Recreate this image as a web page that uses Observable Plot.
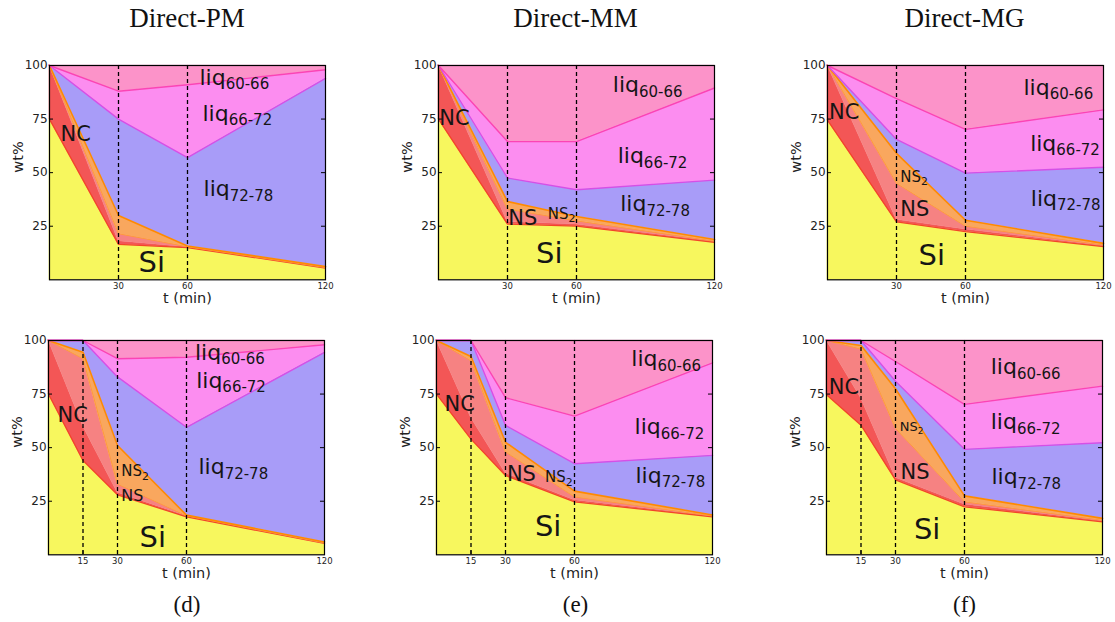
<!DOCTYPE html>
<html><head><meta charset="utf-8">
<script src="https://cdn.jsdelivr.net/npm/d3@7"></script>
<script src="https://cdn.jsdelivr.net/npm/@observablehq/plot@0.6"></script>
<style>
body{margin:0;background:#fff;}
#fig{position:relative;width:1115px;height:622px;overflow:hidden;background:#fff;}
.title{position:absolute;font-family:"Liberation Serif",serif;font-size:27px;text-align:center;width:300px;line-height:30px;color:#111;}
.cap{position:absolute;font-family:"Liberation Serif",serif;font-size:23px;text-align:center;width:100px;line-height:30px;color:#111;}
.panel{position:absolute;}
</style></head><body><div id="fig"></div>
<script>
// ---- data ----
const phases = ["Si","NC","NS","NS2","liq72-78","liq66-72","liq60-66"];
const phaseColors = ["#f7f75e","#f35656","#f68282","#f9a75e","#a89cf8","#fc8df0","#fc93c9"];
const timesTop = [0,30,60,120];
const timesBottom = [0,15,30,60,120];
const xTicksTop = [30,60,120];
const xTicksBottom = [15,30,60,120];
const yTicks = [25,50,75,100];
const titles = ["Direct-PM","Direct-MM","Direct-MG"];
const captions = ["(d)","(e)","(f)"];

// wt% of each phase (rows: Si, NC, NS, NS2, liq72-78, liq66-72, liq60-66), columns = times
const directPM_top = [
  [75,16.5,15,5.5],
  [25,1.5,0.2,0.1],
  [0,3.5,0.2,0.1],
  [0,8.5,0.4,0.5],
  [0,45,41.2,87.8],
  [0,13,34,4],
  [0,12,9,2]
];
const directMM_top = [
  [75,26,25,17.5],
  [25,1,0.8,0.2],
  [0,6,1.7,0.3],
  [0,3.5,2,0.8],
  [0,11,12.5,27.7],
  [0,17,22.5,43],
  [0,35.5,35.5,10.5]
];
const directMG_top = [
  [74.5,27,22.5,15.5],
  [25.5,1,1,0.3],
  [0,17,1.5,0.4],
  [0,14,2.8,0.8],
  [0,6.5,22,35.5],
  [0,19,20.4,26.8],
  [0,15.5,29.8,20.7]
];
const directPM_bottom = [
  [75,44,28,17.7,5.3],
  [25,16,1,0.3,0.1],
  [0,31.5,4,0.2,0.1],
  [0,3,18,0.3,0.5],
  [0,5.5,32,41,88.5],
  [0,0,8.5,32.7,3.5],
  [0,0,8.5,7.8,2]
];
const directMM_bottom = [
  [75,54,37,24.7,17.7],
  [25,10,1,0.8,0.2],
  [0,26.5,10,1.5,0.2],
  [0,2,4.5,2.7,0.5],
  [0,7.5,7.9,12.8,27.8],
  [0,0,12.9,22.2,43.2],
  [0,0,26.7,35.3,10.4]
];
const directMG_bottom = [
  [74.7,60.5,35,22.4,15.4],
  [25.3,12.5,1,1.1,0.3],
  [0,23,23,1.2,0.4],
  [0,1.7,18.5,2.8,0.9],
  [0,2.3,3.5,21.7,35.3],
  [0,0,9.2,21,26.4],
  [0,0,9.8,29.8,21.3]
];

// ---- annotation placement (label anchors in data units) ----
const labelsPMtop = [
  {m:"liq",s:"60-66",t:65.2,v:94.4,f:22},{m:"liq",s:"66-72",t:66.5,v:77.6,f:22},{m:"liq",s:"72-78",t:67,v:42.5,f:22},
  {m:"NC",t:4.8,v:67.8,f:21},{m:"Si",t:38.7,v:7.9,f:29}];
const labelsMMtop = [
  {m:"liq",s:"60-66",t:75.8,v:90.7,f:22},{m:"liq",s:"66-72",t:77.9,v:57.9,f:22},{m:"liq",s:"72-78",t:79,v:35.5,f:22},
  {m:"NC",t:0.3,v:75.2,f:21},{m:"NS",t:30.3,v:28.5,f:21},{m:"NS",s:"2",t:47.5,v:30.8,f:15},{m:"Si",t:42.4,v:12.1,f:29}];
const labelsMGtop = [
  {m:"liq",s:"60-66",t:85.2,v:89.7,f:22},{m:"liq",s:"66-72",t:88.1,v:63.6,f:22},{m:"liq",s:"72-78",t:88.4,v:37.9,f:22},
  {m:"NC",t:0.7,v:78,f:21},{m:"NS",s:"2",t:31.6,v:48.1,f:15},{m:"NS",t:31.6,v:32.7,f:21},{m:"Si",t:39.6,v:11.2,f:29}];
const labelsPMbottom = [
  {m:"liq",s:"60-66",t:63.7,v:94.4,f:22},{m:"liq",s:"66-72",t:64.2,v:81.3,f:22},{m:"liq",s:"72-78",t:65.2,v:40.9,f:22},
  {m:"NC",t:3.9,v:65,f:21},{m:"NS",s:"2",t:31.6,v:38.9,f:15},{m:"NS",t:31.6,v:27.7,f:16},{m:"Si",t:39.6,v:8.2,f:29}];
const labelsMMbottom = [
  {m:"liq",s:"60-66",t:84.7,v:91.4,f:22},{m:"liq",s:"66-72",t:86.1,v:59.5,f:22},{m:"liq",s:"72-78",t:86.5,v:37,f:22},
  {m:"NC",t:3.5,v:70.4,f:21},{m:"NS",t:30.6,v:37.8,f:21},{m:"NS",s:"2",t:47.2,v:36.2,f:15},{m:"Si",t:42.8,v:12.9,f:29}];
const labelsMGbottom = [
  {m:"liq",s:"60-66",t:71.4,v:87.5,f:22},{m:"liq",s:"66-72",t:71.4,v:61.9,f:22},{m:"liq",s:"72-78",t:71.7,v:36.2,f:22},
  {m:"NC",t:1,v:78.2,f:21},{m:"NS",s:"2",t:31.9,v:59.5,f:13},{m:"NS",t:32.2,v:38.5,f:21},{m:"Si",t:38,v:11.8,f:29}];

// ---- layout ----
const PW = 276, PH = 214.3, ML = 50, MR = 50, MT = 30, MB = 45;
const panels = [
  {values:directPM_top, times:timesTop, ticks:xTicksTop, labels:labelsPMtop, left:49.3, top:65},
  {values:directMM_top, times:timesTop, ticks:xTicksTop, labels:labelsMMtop, left:437.7, top:65},
  {values:directMG_top, times:timesTop, ticks:xTicksTop, labels:labelsMGtop, left:826.7, top:65},
  {values:directPM_bottom, times:timesBottom, ticks:xTicksBottom, labels:labelsPMbottom, left:47.7, top:340},
  {values:directMM_bottom, times:timesBottom, ticks:xTicksBottom, labels:labelsMMbottom, left:436, top:340},
  {values:directMG_bottom, times:timesBottom, ticks:xTicksBottom, labels:labelsMGbottom, left:826, top:340}
];
const edges = [
  {p:"Si", c:"#f2452a", w:1.3},
  {p:"NS", c:"#ff9a3c", w:1},
  {p:"NS2", c:"#ff8a00", w:1.6},
  {p:"liq72-78", c:"#d64fe6", w:1.4},
  {p:"liq66-72", c:"#fb44b4", w:1.4}
];

const ctx = document.createElement("canvas").getContext("2d");
function textW(s, f){ ctx.font = f + "px 'DejaVu Sans'"; return ctx.measureText(s).width; }

const fig = document.getElementById("fig");

function makePanel(cfg){
  const rows = [];
  cfg.times.forEach((t,i)=>{
    let acc = 0;
    phases.forEach((p,k)=>{
      const v = cfg.values[k][i];
      rows.push({t, phase:p, y1:acc, y2:acc+v});
      acc += v;
    });
  });
  const pxPerMin = PW/120;
  const dashes = cfg.ticks.filter(d=>d<120);
  const marks = [
    Plot.areaY(rows, {x:"t", y1:"y1", y2:"y2", z:"phase", fill:"phase", stroke:"phase", strokeWidth:0.4}),
    ...edges.map(e=>Plot.line(rows.filter(r=>r.phase===e.p), {x:"t", y:"y2", stroke:e.c, strokeWidth:e.w})),
    Plot.ruleX(dashes, {stroke:"#000", strokeWidth:1.3, strokeDasharray:"4,3"}),
    Plot.tickY(yTicks.filter(d=>d<100), {y:d=>d, stroke:"#000", insetRight:PW-4}),
    Plot.tickY(yTicks.filter(d=>d<100), {y:d=>d, stroke:"#000", insetLeft:PW-4}),
    Plot.tickX(cfg.ticks.filter(d=>d<120), {x:d=>d, stroke:"#000", insetTop:PH-4}),
    Plot.tickX(cfg.ticks.filter(d=>d<120), {x:d=>d, stroke:"#000", insetBottom:PH-4}),
    Plot.frame({stroke:"#000", strokeWidth:1.2}),
    Plot.axisY(yTicks, {anchor:"left", tickSize:0, tickPadding:2, fontSize:12, fill:"#222", label:null}),
    Plot.axisX(cfg.ticks, {anchor:"bottom", tickSize:0, tickPadding:3, fontSize:8.5, fill:"#222", label:null}),
    Plot.text(["t (min)"], {frameAnchor:"bottom", lineAnchor:"middle", dy:19, fontSize:14.5, fill:"#222"}),
    Plot.text(["wt%"], {frameAnchor:"left", lineAnchor:"middle", dx:-31, rotate:-90, fontSize:14.5, fill:"#222"})
  ];
  cfg.labels.forEach(L=>{
    marks.push(Plot.text([L], {x:"t", y:"v", text:"m", textAnchor:"start", fontSize:L.f, fill:"#151515"}));
    if (L.s){
      const sf = Math.round(L.f*0.7);
      const w = textW(L.m, L.f);
      marks.push(Plot.text([L], {x:d=>d.t + w/pxPerMin, y:"v", text:"s", textAnchor:"start", fontSize:sf, dy:L.f*0.32, fill:"#151515"}));
    }
  });
  const svg = Plot.plot({
    width: ML+PW+MR, height: MT+PH+MB,
    marginLeft: ML, marginRight: MR, marginTop: MT, marginBottom: MB,
    x:{domain:[0,120], axis:null},
    y:{domain:[0,100], axis:null},
    color:{domain:phases, range:phaseColors},
    style:{fontFamily:"'DejaVu Sans'", background:"transparent", overflow:"visible"},
    marks
  });
  svg.classList.add("panel");
  svg.style.left = (cfg.left - ML) + "px";
  svg.style.top = (cfg.top - MT) + "px";
  fig.appendChild(svg);
}
panels.forEach(makePanel);

const colCenters = [187, 575.5, 964.5];
titles.forEach((t,i)=>{
  const d = document.createElement("div");
  d.className = "title"; d.textContent = t;
  d.style.left = (colCenters[i]-150)+"px"; d.style.top = "3px";
  fig.appendChild(d);
});
captions.forEach((t,i)=>{
  const d = document.createElement("div");
  d.className = "cap"; d.textContent = t;
  d.style.left = (colCenters[i]-50)+"px"; d.style.top = "590px";
  fig.appendChild(d);
});
</script></body></html>
